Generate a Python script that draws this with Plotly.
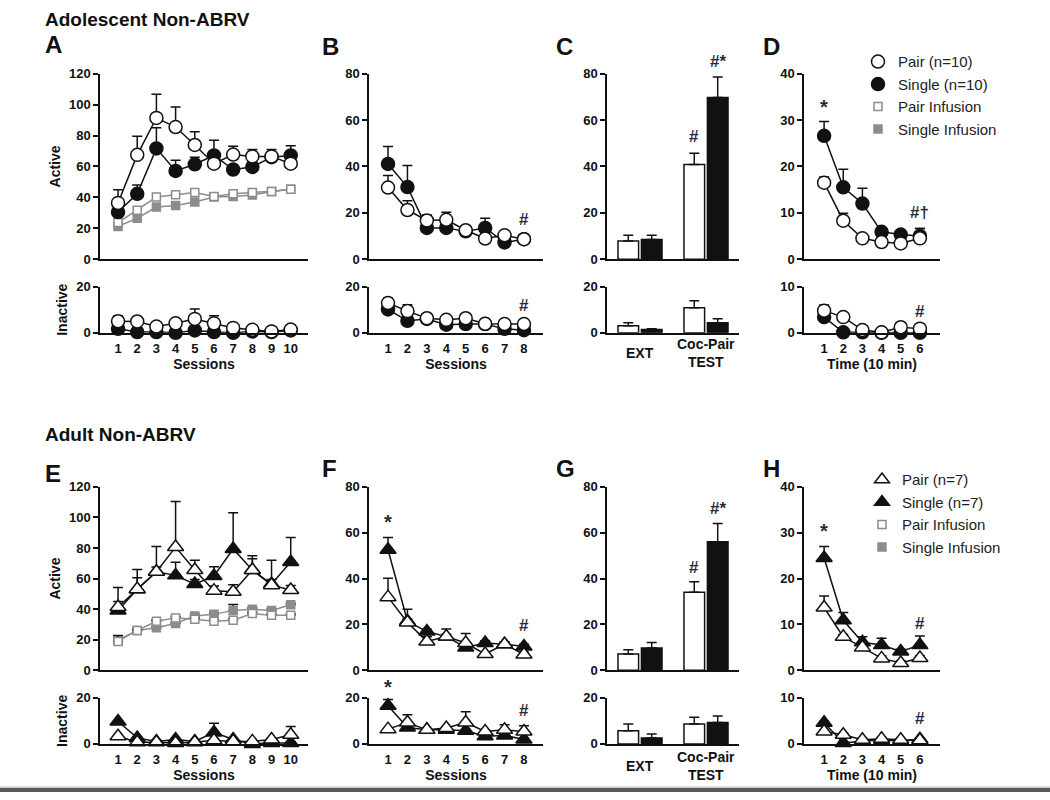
import plotly.graph_objects as go

W, H = 1050, 800

sessions10 = list(range(1, 11))
sessions8 = list(range(1, 9))
time6 = list(range(1, 7))
phases = ["EXT", "Coc-Pair TEST"]

# ---------- Adolescent (A-D) ----------
a_pair = [36.4, 67.5, 91.4, 85.5, 73.9, 61.8, 67.7, 66.5, 66.5, 61.8]
a_pair_sem = [8.5, 12.1, 15.3, 12.9, 8.6, 3.0, 5.3, 4.5, 4.5, 3.0]
a_single = [30.5, 42.3, 71.7, 57.1, 61.4, 67.1, 58.0, 59.7, 66.0, 67.1]
a_single_sem = [3.0, 5.7, 13.3, 6.9, 4.6, 9.9, 3.0, 3.0, 3.0, 6.3]
a_pair_inf = [23.7, 31.7, 40.2, 41.7, 43.2, 40.6, 42.3, 43.2, 43.8, 45.3]
a_single_inf = [21.2, 26.5, 33.7, 34.7, 37.0, 40.2, 40.6, 41.5, 43.8, 45.3]
a_pair_in = [5.0, 4.9, 2.7, 4.1, 6.0, 4.1, 2.1, 1.3, 0.6, 1.4]
a_pair_in_sem = [2.4, 1.0, 1.0, 1.0, 4.3, 3.3, 0.5, 0.5, 0.5, 0.5]
a_single_in = [1.7, 0.3, 0.3, 0.0, 1.0, 0.3, 0.0, 0.6, 0.3, 1.0]
a_single_in_sem = [0.5] * 10

b_pair = [30.9, 21.2, 16.7, 17.0, 12.5, 8.9, 10.3, 8.6]
b_pair_sem = [5.2, 4.0, 2.4, 3.2, 1.0, 1.0, 1.0, 1.0]
b_single = [41.1, 31.1, 13.5, 13.5, 12.0, 13.5, 7.2, 8.6]
b_single_sem = [7.5, 9.3, 2.0, 2.0, 1.0, 4.2, 1.0, 1.0]
b_pair_in = [12.9, 9.4, 6.3, 5.6, 6.3, 3.9, 3.8, 3.8]
b_pair_in_sem = [2.2, 2.8, 0.5, 0.5, 0.5, 0.5, 0.5, 0.5]
b_single_in = [10.1, 5.2, 6.0, 3.5, 3.8, 3.8, 1.7, 1.1]
b_single_in_sem = [0.5] * 8

c_pair = [7.8, 40.8]
c_pair_sem = [2.5, 4.9]
c_single = [8.5, 69.8]
c_single_sem = [1.8, 8.8]
c_pair_in = [3.0, 10.9]
c_pair_in_sem = [1.4, 3.0]
c_single_in = [1.4, 4.4]
c_single_in_sem = [0.4, 1.7]

d_pair = [16.5, 8.3, 4.5, 3.7, 3.4, 4.5]
d_pair_sem = [1.2, 1.6, 0.5, 0.5, 0.5, 2.1]
d_single = [26.6, 15.5, 12.0, 5.9, 5.3, 5.0]
d_single_sem = [3.1, 3.9, 3.3, 0.8, 0.5, 1.6]
d_pair_in = [4.8, 3.4, 0.6, 0.1, 1.2, 0.9]
d_pair_in_sem = [1.2, 0.3, 0.3, 0.3, 0.3, 0.3]
d_single_in = [3.4, 0.1, 0.1, 0.0, 0.0, 0.0]
d_single_in_sem = [0.3] * 6

# ---------- Adult (E-H) ----------
e_pair = [41.4, 53.1, 64.5, 80.6, 65.6, 52.1, 51.4, 65.6, 55.7, 52.5]
e_pair_sem = [3.6, 7.5, 3.0, 29.8, 6.4, 3.0, 4.6, 9.4, 16.3, 3.0]
e_single = [39.2, 53.1, 64.5, 62.1, 56.4, 61.7, 79.3, 65.6, 56.4, 70.9]
e_single_sem = [15.0, 12.9, 16.5, 8.6, 3.0, 6.0, 23.7, 7.3, 3.0, 15.9]
e_pair_inf = [18.9, 26.1, 32.1, 34.3, 33.4, 32.1, 32.8, 37.1, 36.0, 36.0]
e_pair_inf_sem = [3.8, 1.0, 1.0, 1.0, 1.0, 1.0, 1.0, 1.0, 1.0, 1.0]
e_single_inf = [19.9, 26.1, 27.9, 30.6, 35.6, 36.6, 39.2, 39.9, 39.2, 42.9]
e_single_inf_sem = [1.0, 1.0, 1.0, 1.0, 1.0, 1.0, 3.8, 1.0, 1.0, 1.0]
e_pair_in = [3.3, 0.7, 0.7, 0.4, 0.7, 1.6, 1.1, 1.1, 1.9, 4.0]
e_pair_in_sem = [0.5, 0.5, 0.5, 0.5, 0.5, 0.5, 0.5, 0.5, 0.5, 3.6]
e_single_in = [9.7, 2.6, 1.1, 1.9, 1.1, 5.0, 1.9, 0.0, 0.4, 0.4]
e_single_in_sem = [0.5, 0.5, 0.5, 0.5, 0.5, 4.0, 0.5, 0.5, 0.5, 0.5]

f_pair = [31.9, 20.9, 12.6, 14.7, 11.9, 7.1, 11.4, 6.9]
f_pair_sem = [8.2, 5.7, 2.0, 3.3, 4.2, 1.0, 1.0, 1.0]
f_single = [52.6, 21.4, 16.9, 14.7, 10.0, 11.9, 11.4, 10.4]
f_single_sem = [5.3, 1.0, 1.0, 1.0, 1.0, 1.0, 1.0, 1.0]
f_pair_in = [6.4, 9.3, 6.1, 6.9, 9.3, 5.4, 6.1, 5.4]
f_pair_in_sem = [0.5, 3.3, 0.5, 0.5, 4.7, 0.5, 2.2, 2.5]
f_single_in = [16.6, 7.1, 6.1, 6.1, 5.7, 3.3, 3.7, 1.9]
f_single_in_sem = [2.7, 0.5, 0.5, 0.5, 0.5, 0.5, 0.5, 0.5]

g_pair = [7.1, 34.0]
g_pair_sem = [1.9, 4.6]
g_single = [9.7, 56.1]
g_single_sem = [2.4, 7.9]
g_pair_in = [5.7, 8.6]
g_pair_in_sem = [2.9, 3.0]
g_single_in = [2.6, 9.3]
g_single_in_sem = [1.7, 2.8]

h_pair = [13.7, 7.3, 5.0, 2.6, 1.6, 2.7]
h_pair_sem = [2.5, 0.5, 0.5, 0.5, 0.5, 0.5]
h_single = [24.5, 10.9, 6.1, 5.5, 4.1, 5.5]
h_single_sem = [2.5, 1.7, 1.2, 1.5, 0.5, 2.0]
h_pair_in = [2.7, 2.0, 0.9, 1.1, 0.9, 0.8]
h_pair_in_sem = [0.3] * 6
h_single_in = [4.6, 0.2, 0.6, 0.9, 0.6, 1.0]
h_single_in_sem = [0.3] * 6

FONT = "Arial, Liberation Sans, sans-serif"
INK = "#111111"
MARK = "#2a2a3a"
GRAY = "#8c8c8c"
BAR_OFF = 0.18

fig = go.Figure()


def err(sem):
    return dict(type="data", symmetric=False, array=sem, arrayminus=[0] * len(sem),
                color=INK, thickness=1.5, width=5)


def series(n, x, y, sem, symbol, fill, edge, size):
    fig.add_trace(go.Scatter(
        x=x, y=y, xaxis=f"x{n}", yaxis=f"y{n}", mode="lines+markers",
        line=dict(color=edge, width=1.5),
        marker=dict(symbol=symbol, size=size, color=fill, line=dict(color=edge, width=1.5)),
        error_y=err(sem) if sem is not None else None,
        cliponaxis=False, showlegend=False, hoverinfo="skip"))


def bars(n, y, sem, fill):
    fig.add_trace(go.Bar(
        x=phases, y=y, xaxis=f"x{n}", yaxis=f"y{n}",
        marker=dict(color=fill, line=dict(color=INK, width=1.5)),
        error_y=err(sem), showlegend=False, hoverinfo="skip"))


def pair_single(n, x, pair, pair_sem, single, single_sem, sym):
    size = 14 if sym == "triangle-up" else 13
    series(n, x, single, single_sem, sym, INK, INK, size)
    series(n, x, pair, pair_sem, sym, "white", INK, size)


# A
series(1, sessions10, a_single_inf, None, "square", GRAY, GRAY, 8)
series(1, sessions10, a_pair_inf, None, "square", "white", GRAY, 8)
pair_single(1, sessions10, a_pair, a_pair_sem, a_single, a_single_sem, "circle")
pair_single(2, sessions10, a_pair_in, a_pair_in_sem, a_single_in, a_single_in_sem, "circle")
# B
pair_single(3, sessions8, b_pair, b_pair_sem, b_single, b_single_sem, "circle")
pair_single(4, sessions8, b_pair_in, b_pair_in_sem, b_single_in, b_single_in_sem, "circle")
# C
bars(5, c_pair, c_pair_sem, "white")
bars(5, c_single, c_single_sem, INK)
bars(6, c_pair_in, c_pair_in_sem, "white")
bars(6, c_single_in, c_single_in_sem, INK)
# D
pair_single(7, time6, d_pair, d_pair_sem, d_single, d_single_sem, "circle")
pair_single(8, time6, d_pair_in, d_pair_in_sem, d_single_in, d_single_in_sem, "circle")
# E
series(9, sessions10, e_single_inf, e_single_inf_sem, "square", GRAY, GRAY, 8)
series(9, sessions10, e_pair_inf, e_pair_inf_sem, "square", "white", GRAY, 8)
pair_single(9, sessions10, e_pair, e_pair_sem, e_single, e_single_sem, "triangle-up")
pair_single(10, sessions10, e_pair_in, e_pair_in_sem, e_single_in, e_single_in_sem, "triangle-up")
# F
pair_single(11, sessions8, f_pair, f_pair_sem, f_single, f_single_sem, "triangle-up")
pair_single(12, sessions8, f_pair_in, f_pair_in_sem, f_single_in, f_single_in_sem, "triangle-up")
# G
bars(13, g_pair, g_pair_sem, "white")
bars(13, g_single, g_single_sem, INK)
bars(14, g_pair_in, g_pair_in_sem, "white")
bars(14, g_single_in, g_single_in_sem, INK)
# H
pair_single(15, time6, h_pair, h_pair_sem, h_single, h_single_sem, "triangle-up")
pair_single(16, time6, h_pair_in, h_pair_in_sem, h_single_in, h_single_in_sem, "triangle-up")

# legend-only entries
legend_items = [
    ("legend", 7, "Pair (n=10)", "circle", "white", INK, 13),
    ("legend", 7, "Single (n=10)", "circle", INK, INK, 13),
    ("legend", 7, "Pair Infusion", "square", "white", GRAY, 8),
    ("legend", 7, "Single Infusion", "square", GRAY, GRAY, 8),
    ("legend2", 15, "Pair (n=7)", "triangle-up", "white", INK, 13),
    ("legend2", 15, "Single (n=7)", "triangle-up", INK, INK, 13),
    ("legend2", 15, "Pair Infusion", "square", "white", GRAY, 8),
    ("legend2", 15, "Single Infusion", "square", GRAY, GRAY, 8),
]
for lg, n, name, sym, fill, edge, size in legend_items:
    fig.add_trace(go.Scatter(
        x=[None], y=[None], xaxis=f"x{n}", yaxis=f"y{n}", mode="markers", name=name,
        marker=dict(symbol=sym, size=size, color=fill, line=dict(color=edge, width=1.5)),
        legend=lg, showlegend=True))

# ---------- axes ----------
cols = [(100, 308), (369, 543), (607, 739), (804, 940)]
rows = [(68, 257), (285, 332), (489, 676), (704, 751)]
xranges = [[0.06, 10.9], [0.02, 8.98], [-0.5, 1.5], [-0.05, 7.05]]
xticks = [sessions10, sessions8, None, time6]
xtitles = ["Sessions", "Sessions", None, "Time (10 min)"]
active_y = [(120, 20), (80, 20), (80, 20), (40, 10)]
inactive_y = [(20, 20), (20, 20), (20, 20), (10, 10)]

tickfont = dict(family=FONT, size=13, color=INK, weight="bold")
titlefont = dict(family=FONT, size=14, color=INK, weight="bold")
layout = {}
for block in range(2):
    for c in range(4):
        for r in range(2):
            n = block * 8 + c * 2 + r + 1
            top, bot = rows[block * 2 + r]
            x0, x1 = cols[c]
            ymax, dt = (active_y if r == 0 else inactive_y)[c]
            xa = dict(domain=[x0 / W, x1 / W], anchor=f"y{n}", showline=True,
                      linecolor=INK, linewidth=1.5, showgrid=False, zeroline=False,
                      ticks="outside", ticklen=3, tickcolor="rgba(0,0,0,0)",
                      tickfont=tickfont, fixedrange=True)
            if c == 2:
                xa.update(type="category", range=xranges[c], showticklabels=False)
            else:
                xa.update(range=xranges[c], tickvals=xticks[c], showticklabels=(r == 1))
                if r == 1:
                    xa["title"] = dict(text=xtitles[c], standoff=3, font=titlefont)
            ya = dict(domain=[1 - bot / H, 1 - top / H], anchor=f"x{n}", range=[0, ymax],
                      dtick=dt, showline=True, linecolor=INK, linewidth=1.5, showgrid=False,
                      zeroline=False, ticks="outside", ticklen=5, tickwidth=1.5,
                      tickcolor=INK, tickfont=tickfont, fixedrange=True)
            if c == 0:
                ya["title"] = dict(text="Active" if r == 0 else "Inactive", standoff=5,
                                   font=titlefont)
            layout[f"xaxis{n}"] = xa
            layout[f"yaxis{n}"] = ya

annotations = []


def txt(x, y, text, size=14, xanchor="center", xref="paper", yref="paper"):
    annotations.append(dict(x=x, y=y, xref=xref, yref=yref, text=text, showarrow=False,
                            xanchor=xanchor, yanchor="middle",
                            font=dict(family=FONT, size=size, color=INK, weight="bold")))


txt(43 / W, 1 - 13 / H, "Adolescent Non-ABRV", size=19, xanchor="left")
txt(43 / W, 1 - 436 / H, "Adult Non-ABRV", size=19, xanchor="left")
for letter, px, py in [("A", 43, 38), ("B", 320, 40), ("C", 554, 40), ("D", 761, 40),
                       ("E", 43, 475), ("F", 320, 470), ("G", 554, 470), ("H", 761, 470)]:
    txt(px / W, 1 - py / H, letter, size=24, xanchor="left")

# category labels for the bar panels
for n, top in [(6, 353), (14, 773)]:
    txt(0, 1 - top / H, "EXT", xref=f"x{n}")
    txt(1, 1 - top / H, "Coc-Pair<br>TEST", xref=f"x{n}")

# significance marks (axis, x, y, text); marks above an axis top are pinned there and shifted
marks = [
    (3, 8, 17, "#"), (4, 8, 12, "#"),
    (5, 1 - BAR_OFF, 52.8, "#"), (5, 1 + BAR_OFF, 85, "#*"),
    (7, 1, 32.9, "*"), (7, 6, 10.1, "#†"), (8, 6, 4.6, "#"),
    (11, 1, 64.7, "*"), (11, 8, 19.7, "#"), (12, 1, 24.7, "*"), (12, 8, 14.7, "#"),
    (13, 1 - BAR_OFF, 44.7, "#"), (13, 1 + BAR_OFF, 70.4, "#*"),
    (15, 1, 30.3, "*"), (15, 6, 10.2, "#"), (16, 6, 5.6, "#"),
]
for n, x, y, t in marks:
    ymax = layout[f"yaxis{n}"]["range"][1]
    top, bot = rows[(0 if n <= 8 else 2) + (1 - n % 2)]
    shift = 0
    if y > ymax:
        shift = (y - ymax) * (bot - top) / ymax
        y = ymax
    annotations.append(dict(x=x, y=y, xref=f"x{n}", yref=f"y{n}", text=t, showarrow=False,
                            yshift=shift,
                            font=dict(family=FONT, size=20 if t == "*" else 17,
                                      color=MARK, weight="bold")))

legend_style = dict(font=dict(family=FONT, size=15, color="#222222"), bgcolor="rgba(0,0,0,0)",
                    itemwidth=30, tracegroupgap=0, xanchor="left", yanchor="top")

fig.update_layout(
    width=W, height=H, margin=dict(l=0, r=0, t=0, b=0),
    paper_bgcolor="white", plot_bgcolor="white",
    barmode="group", bargap=0.29, bargroupgap=0.12,
    hovermode=False,
    annotations=annotations,
    legend=dict(x=858 / W, y=1 - 39 / H, **legend_style),
    legend2=dict(x=862 / W, y=1 - 465 / H, **legend_style),
    shapes=[
        dict(type="rect", xref="paper", yref="paper", x0=0, x1=1, y0=0, y1=4 / H,
             fillcolor="#5a5a5a", line=dict(width=0)),
        dict(type="line", xref="paper", yref="paper", x0=0, x1=1, y0=5 / H, y1=5 / H,
             line=dict(color="#b0b0b0", width=1)),
    ],
    **layout,
)

fig.write_html("out.html", config={"displayModeBar": False},
               post_script="document.body.style.margin='0';")
